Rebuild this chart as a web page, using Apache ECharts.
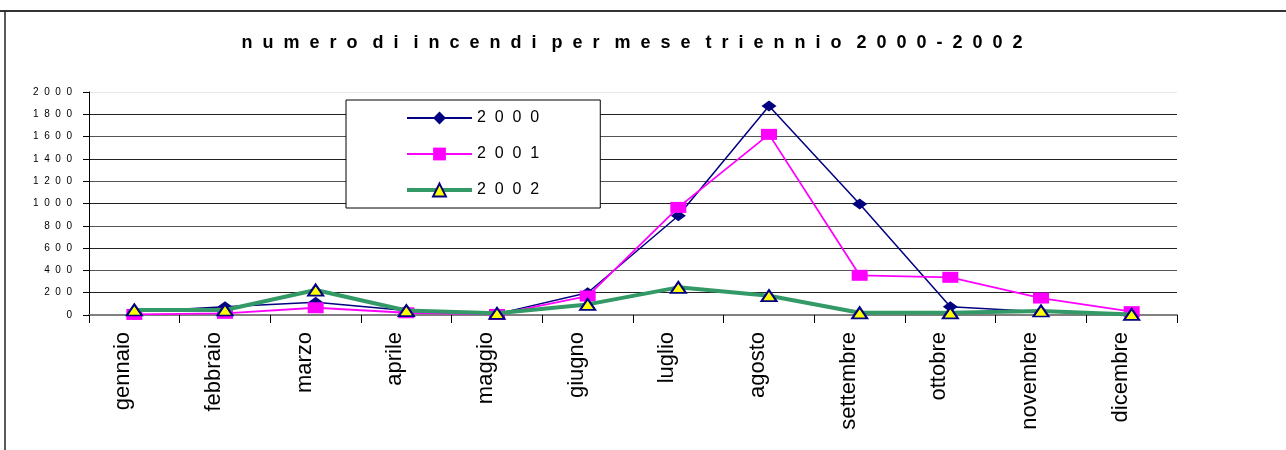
<!DOCTYPE html>
<html>
<head>
<meta charset="utf-8">
<script src="https://cdn.jsdelivr.net/npm/echarts@6/dist/echarts.min.js"></script>
<style>
  html, body { margin: 0; padding: 0; background: #fff; }
  #chart { width: 1286px; height: 450px; }
</style>
</head>
<body>
<div id="chart"></div>
<script>
// Monthly fire counts, three years
const months = ['gennaio', 'febbraio', 'marzo', 'aprile', 'maggio', 'giugno',
                'luglio', 'agosto', 'settembre', 'ottobre', 'novembre', 'dicembre'];
const fires2000 = [30, 75, 115, 40, 10, 200, 890, 1875, 995, 75, 30, 5];
const fires2001 = [5, 15, 65, 20, 5, 170, 965, 1620, 356, 338, 152, 30];
const fires2002 = [45, 45, 224, 40, 15, 95, 248, 173, 20, 20, 36, 5];
const yTicks = [0, 200, 400, 600, 800, 1000, 1200, 1400, 1600, 1800, 2000];
const titleText = 'numero di incendi per mese triennio 2000-2002';

// letter-spaced rendering of labels
const spaced = (s, gap) => String(s).split('').join(gap || ' ');

const chart = echarts.init(document.getElementById('chart'));
const font = '"Liberation Sans", Arial, sans-serif';

chart.setOption({
  animation: false,
  backgroundColor: '#fff',
  title: {
    text: String(titleText).split(' ').map(w => spaced(w, '  ')).join('   '),
    left: 627,
    top: 29,
    textAlign: 'center',
    textStyle: { fontFamily: font, fontSize: 18, fontWeight: 'bold', color: '#000' }
  },
  graphic: [
    { type: 'line', shape: { x1: 0, y1: 11, x2: 1286, y2: 11 }, style: { stroke: '#333', lineWidth: 2 } },
    { type: 'line', shape: { x1: 5, y1: 11, x2: 5, y2: 450 }, style: { stroke: '#222', lineWidth: 1.5 } }
  ],
  legend: {
    orient: 'vertical',
    left: 346,
    top: 100,
    padding: [10, 61, 10, 59],
    itemWidth: 65,
    itemHeight: 16,
    itemGap: 20,
    borderColor: '#000',
    borderWidth: 1,
    backgroundColor: '#fff',
    formatter: name => spaced(name, '  '),
    textStyle: { fontFamily: font, fontSize: 16, color: '#000' },
    data: [
      { name: '2000' },
      { name: '2001' },
      { name: '2002', lineStyle: { width: 4 } }
    ]
  },
  grid: { left: 89, right: 109, top: 92, bottom: 135, containLabel: false },
  xAxis: {
    type: 'category',
    data: months,
    boundaryGap: true,
    axisLine: { lineStyle: { color: '#808080', width: 2 } },
    axisTick: { show: true, interval: 0, length: 8, lineStyle: { color: '#000', width: 1 } },
    axisLabel: {
      interval: 0,
      rotate: 90,
      margin: 17,
      verticalAlign: 'bottom',
      lineHeight: 22,
      fontFamily: font,
      fontSize: 22,
      color: '#000'
    }
  },
  yAxis: {
    type: 'value',
    min: yTicks[0],
    max: yTicks[yTicks.length - 1],
    interval: 200,
    axisLine: { show: true, lineStyle: { color: '#000', width: 1 } },
    axisTick: { show: true, length: 6, lineStyle: { color: '#000' } },
    axisLabel: {
      formatter: v => spaced(v, '  '),
      fontFamily: font,
      fontSize: 10,
      color: '#000',
      margin: 17
    },
    splitLine: {
      show: true,
      lineStyle: {
        color: ['#808080', '#222', '#555', '#222', '#555', '#222', '#555', '#222', '#555', '#222', '#e8e8e8'],
        width: 1
      }
    }
  },
  series: [
    {
      name: '2000',
      type: 'line',
      data: fires2000,
      symbol: 'diamond',
      symbolSize: [15, 11],
      lineStyle: { color: '#000080', width: 1.5 },
      itemStyle: { color: '#000080' },
      z: 2
    },
    {
      name: '2001',
      type: 'line',
      data: fires2001,
      symbol: 'rect',
      symbolSize: [16, 11],
      lineStyle: { color: '#ff00ff', width: 1.8 },
      itemStyle: { color: '#ff00ff' },
      z: 3
    },
    {
      name: '2002',
      type: 'line',
      data: fires2002,
      symbol: 'triangle',
      symbolSize: [15, 11],
      lineStyle: { color: '#339966', width: 4 },
      itemStyle: { color: '#ffff00', borderColor: '#000080', borderWidth: 2 },
      z: 4
    }
  ]
});
</script>
</body>
</html>
